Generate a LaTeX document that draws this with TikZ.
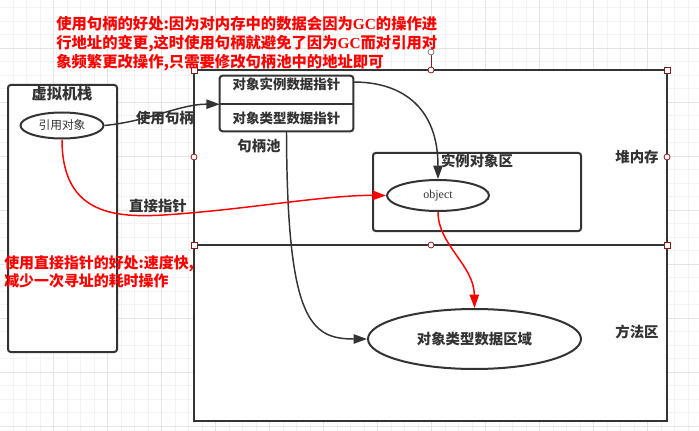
\documentclass[tikz,border=0pt]{standalone}
\usepackage{fontspec}
\setmainfont{Liberation Serif}
\newfontfamily\cjk{Noto Sans CJK SC}
\newfontfamily\lat{Liberation Serif}
\usetikzlibrary{arrows.meta,shapes.geometric,calc}
\definecolor{ink}{HTML}{333333}
\definecolor{hred}{HTML}{8B1A1A}
\definecolor{gminor}{HTML}{F3F3F3}
\definecolor{gmajor}{HTML}{E4E4E4}
\tikzset{
  boxline/.style={draw=ink, line width=1.5pt},
  conn/.style={draw=ink, line width=1.1pt, -{Triangle[length=10pt,width=7pt]}},
  rconn/.style={draw=red, line width=1.1pt, -{Triangle[length=10pt,width=7pt]}},
  lbl/.style={text=ink, font=\cjk\bfseries\fontsize{10.8pt}{12pt}\selectfont, inner sep=0pt},
  redtxt/.style={text=red, anchor=base west, inner sep=0pt, font=\cjk\bfseries\fontsize{11.5pt}{13pt}\selectfont},
  redtxtb/.style={text=red, anchor=base west, inner sep=0pt, font=\cjk\bfseries\fontsize{11.2pt}{13pt}\selectfont},
  handsq/.style={draw=hred, fill=white, line width=0.6pt, minimum size=4.5pt, inner sep=0pt, rectangle},
  handci/.style={draw=hred, fill=white, line width=0.6pt, minimum size=4.5pt, inner sep=0pt, circle},
}
\begin{document}
\begin{tikzpicture}[x=0.75pt,y=-0.75pt]
\useasboundingbox (0,0) rectangle (699,431);
\fill[white] (0,0) rectangle (699,431);
% grid
\foreach \i in {0,...,52} {
  \draw[gminor, line width=0.75pt] ({-0.5+13.5*\i},0) -- ({-0.5+13.5*\i},431);
}
\foreach \i in {0,...,32} {
  \draw[gminor, line width=0.75pt] (0,{-5.7+13.5*\i}) -- (699,{-5.7+13.5*\i});
}
\foreach \i in {0,...,13} {
  \draw[gmajor, line width=0.75pt] ({-0.5+54*\i},0) -- ({-0.5+54*\i},431);
}
\foreach \i in {0,...,8} {
  \draw[gmajor, line width=0.75pt] (0,{-5.7+54*\i}) -- (699,{-5.7+54*\i});
}
% heap + method area
\draw[boxline, fill=white] (194,70) rectangle (667,421);
\draw[boxline] (194,245) -- (667,245);
% VM stack
\draw[boxline, fill=white, rounded corners=2pt] (8,85) rectangle (117,352);
\node[lbl, font=\cjk\bfseries\fontsize{11.4pt}{13pt}\selectfont] (vmt) at (62,94) {虚拟机栈};
\node[ellipse, boxline, fill=white, minimum width=62.25pt, minimum height=19.5pt, inner sep=0pt,
  text=ink, font=\cjk\fontsize{8.8pt}{10pt}\selectfont] (ref) at (62,125.5) {引用对象};
% handle pool
\node[minimum width=99.75pt, minimum height=21pt, inner sep=0pt] (ptrA) at (286.5,90) {};
\node[minimum width=99.75pt, minimum height=20.25pt, inner sep=0pt] (ptrB) at (286.5,117.5) {};
\draw[boxline, fill=white, rounded corners=2pt] (ptrA.north west) rectangle (ptrB.south east);
\draw[boxline] (ptrA.south west) -- (ptrA.south east);
\node[lbl, font=\cjk\bfseries\fontsize{10.1pt}{12pt}\selectfont] (ptrAt) at (286.5,84) {对象实例数据指针};
\node[lbl, font=\cjk\bfseries\fontsize{10.1pt}{12pt}\selectfont] (ptrBt) at (286.5,118) {对象类型数据指针};
\node[lbl] (pool) at (259,146) {句柄池};
% instance area
\draw[boxline, rounded corners=2pt] (373,153) rectangle (581,231);
\node[lbl] (inst) at (477,161) {实例对象区};
\node[ellipse, boxline, fill=white, minimum width=76.5pt, minimum height=23.25pt, inner sep=0pt,
  text=ink, font=\lat\fontsize{9pt}{10pt}\selectfont] (obj) at (438,195.5) {object};
\node[lbl] (heap) at (637,157) {堆内存};
\node[lbl] (meth) at (637,332) {方法区};
\node[ellipse, boxline, fill=white, minimum width=159.75pt, minimum height=45pt, inner sep=0pt,
  text=ink, font=\cjk\bfseries\fontsize{10.8pt}{12pt}\selectfont] (type) at (474.5,339) {对象类型数据区域};
% connector labels
\node[lbl] (useh) at (165,118) {使用句柄};
\node[lbl] (direct) at (158,206) {直接指针};
% connectors
\draw[conn] (ref.east) .. controls (150,121) and (180,104) .. (ptrA.south west);
\draw[conn] ($(ptrA.east)+(0,-8)$) .. controls (405,82) and (438,110) .. (obj.north);
\draw[conn] (ptrB.south) .. controls (287,320) and (310,339) .. (type.west);
\draw[rconn] (ref.south) .. controls (62,225) and (130,218) .. (190,213) .. controls (260,207) and (330,195) .. (obj.west);
\draw[rconn] (obj.south) .. controls (438,245) and (474,265) .. (type.north);
% selection handles
\draw[hred, line width=0.6pt] (431,52) -- (431,70);
\node[handci, draw=gray] (rot) at (431,52) {};
\node[handsq] (h1) at (194,70) {};
\node[handsq] (h2) at (667,70) {};
\node[handsq] (h3) at (194,245) {};
\node[handsq] (h4) at (667,245) {};
\node[handci] (c1) at (431,70) {};
\node[handci] (c2) at (194,157) {};
\node[handci] (c3) at (667,157) {};
\node[handci] (c4) at (431,245) {};
% red notes
\node[redtxt] (n1) at (56,30) {使用句柄的好处:因为对内存中的数据会因为{\lat\bfseries GC}的操作进};
\node[redtxt] (n2) at (56,49) {行地址的变更,这时使用句柄就避免了因为{\lat\bfseries GC}而对引用对};
\node[redtxt] (n3) at (56,67.5) {象频繁更改操作,只需要修改句柄池中的地址即可};
\node[redtxtb] (m1) at (4,268) {使用直接指针的好处:速度快,};
\node[redtxtb] (m2) at (4,286) {减少一次寻址的耗时操作};
\end{tikzpicture}
\end{document}
